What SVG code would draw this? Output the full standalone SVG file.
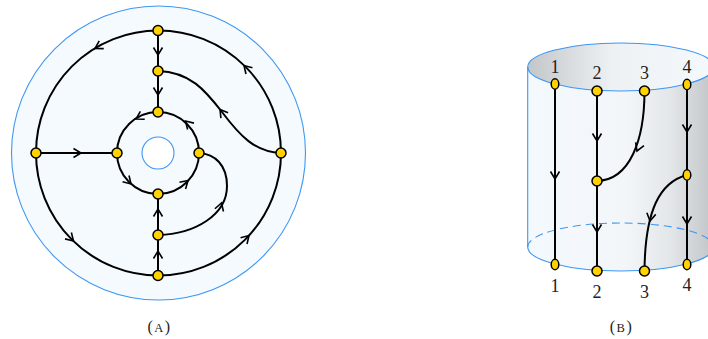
<svg xmlns="http://www.w3.org/2000/svg" xmlns:xlink="http://www.w3.org/1999/xlink" width="708" height="339" viewBox="0 0 708 339">
<style>
.edge{fill:none;stroke:#000;stroke-width:2}
.blue{fill:none;stroke:#3d97f2;stroke-width:1.1}
.node{fill:#ffd200;stroke:#000;stroke-width:1.5}
.lbl{font-family:"Liberation Serif","DejaVu Serif",serif;font-size:18px;fill:#222;text-anchor:middle}
.cap{font-family:"Liberation Serif","DejaVu Serif",serif;font-size:16px;fill:#222;text-anchor:middle;letter-spacing:1.5px}
</style>
<defs>
<path id="ch" d="M-7.5,-4.5 L0,0 L-7.5,4.5" fill="none" stroke="#000" stroke-width="1.6" stroke-linejoin="miter"/>
<linearGradient id="body" gradientUnits="userSpaceOnUse" x1="528" y1="0" x2="708" y2="0">
<stop offset="0" stop-color="#f4f9fe"/>
<stop offset="0.55" stop-color="#f2f6f9"/>
<stop offset="0.8" stop-color="#e3e6e8"/>
<stop offset="1" stop-color="#c6c9cc"/>
</linearGradient>
<linearGradient id="inside" gradientUnits="userSpaceOnUse" x1="528" y1="0" x2="714" y2="0">
<stop offset="0" stop-color="#c4c7ca"/>
<stop offset="0.45" stop-color="#eef1f4"/>
<stop offset="1" stop-color="#f4f9fd"/>
</linearGradient>
</defs>

<!-- Figure A background -->
<g id="surfaceA">
<circle cx="158.5" cy="153" r="147" fill="#f5faff" stroke="#3d97f2" stroke-width="1.1"/>
<circle cx="158" cy="153" r="16" fill="#ffffff" stroke="#3d97f2" stroke-width="1.1"/>
</g>

<!-- Figure B cylinder -->
<g id="cylinder">
<path d="M527.7,67 A93,24 0 0 0 713.7,67 L713.7,247 A93,24 0 0 1 527.7,247 Z" fill="url(#body)"/>
<ellipse cx="620.7" cy="67" rx="93" ry="24" fill="url(#inside)"/>
<ellipse cx="620.7" cy="67" rx="93" ry="24" class="blue"/>
<line x1="527.7" y1="67" x2="527.7" y2="247" class="blue"/>
<path d="M527.7,247 A93,24 0 0 0 713.7,247" class="blue"/>
<path d="M527.7,247 A93,24 0 0 1 713.7,247" class="blue" stroke-dasharray="8,5"/>
</g>

<g id="connectors">
<!-- Figure A -->
<circle cx="158.5" cy="153" r="122.5" class="edge"/>
<circle cx="158" cy="153" r="41" class="edge"/>
<line x1="158" y1="30" x2="158" y2="112" class="edge"/>
<line x1="158" y1="194" x2="158" y2="275.5" class="edge"/>
<line x1="36" y1="153" x2="117" y2="153" class="edge"/>
<path d="M158,71 C190,72 205,90 222,112 C240,136 255,152 281,153" class="edge"/>
<path d="M158,235 C195,234 227,215 227,186 C227,165 215,154 199,153" class="edge"/>
<!-- arrows A -->
<use xlink:href="#ch" transform="translate(158,55) rotate(90)"/>
<use xlink:href="#ch" transform="translate(158,95) rotate(90)"/>
<use xlink:href="#ch" transform="translate(158,251) rotate(-90)"/>
<use xlink:href="#ch" transform="translate(158,209) rotate(-90)"/>
<use xlink:href="#ch" transform="translate(81,153) rotate(0)"/>
<use xlink:href="#ch" transform="translate(95,48.5) rotate(150)"/>
<use xlink:href="#ch" transform="translate(244,65.5) rotate(-134)"/>
<use xlink:href="#ch" transform="translate(73.5,241) rotate(45)"/>
<use xlink:href="#ch" transform="translate(249,235.5) rotate(-46)"/>
<use xlink:href="#ch" transform="translate(136,119) rotate(151)"/>
<use xlink:href="#ch" transform="translate(185.5,121) rotate(-135)"/>
<use xlink:href="#ch" transform="translate(131,184) rotate(46)"/>
<use xlink:href="#ch" transform="translate(188,180.5) rotate(-43)"/>
<use xlink:href="#ch" transform="translate(220,109.5) rotate(-127)"/>
<use xlink:href="#ch" transform="translate(221.5,203) rotate(-72)"/>
<!-- Figure B -->
<line x1="555" y1="84" x2="555" y2="264.5" class="edge"/>
<line x1="597" y1="91" x2="597" y2="271" class="edge"/>
<line x1="687" y1="84.5" x2="687" y2="264.5" class="edge"/>
<path d="M644.5,91 C644.5,140 630,180 597,181" class="edge"/>
<path d="M687,175 C660,182 645,210 644.5,271" class="edge"/>
<use xlink:href="#ch" transform="translate(555,179) rotate(90)"/>
<use xlink:href="#ch" transform="translate(597,141) rotate(90)"/>
<use xlink:href="#ch" transform="translate(597,232) rotate(90)"/>
<use xlink:href="#ch" transform="translate(687,132) rotate(90)"/>
<use xlink:href="#ch" transform="translate(687,224) rotate(90)"/>
<use xlink:href="#ch" transform="translate(637,151) rotate(112)"/>
<use xlink:href="#ch" transform="translate(650,221) rotate(100)"/>
</g>

<g id="nA_top"><circle cx="158" cy="30.5" r="5" class="node"/></g>
<g id="nA_mid_top"><circle cx="158" cy="71" r="5" class="node"/></g>
<g id="nA_in_top"><circle cx="158" cy="112" r="5" class="node"/></g>
<g id="nA_left"><circle cx="36" cy="153" r="5" class="node"/></g>
<g id="nA_in_left"><circle cx="117" cy="153" r="5" class="node"/></g>
<g id="nA_in_right"><circle cx="199" cy="153" r="5" class="node"/></g>
<g id="nA_right"><circle cx="281" cy="153" r="5" class="node"/></g>
<g id="nA_in_bottom"><circle cx="158" cy="194" r="5" class="node"/></g>
<g id="nA_mid_bottom"><circle cx="158" cy="235" r="5" class="node"/></g>
<g id="nA_bottom"><circle cx="158" cy="275.5" r="5" class="node"/></g>

<g id="nB_top1"><ellipse cx="555" cy="84" rx="3.8" ry="5.2" class="node"/><text x="555" y="72.5" class="lbl">1</text></g>
<g id="nB_top2"><circle cx="597" cy="91" r="5" class="node"/><text x="597" y="78.5" class="lbl">2</text></g>
<g id="nB_top3"><circle cx="644.5" cy="91" r="5" class="node"/><text x="644.5" y="78.5" class="lbl">3</text></g>
<g id="nB_top4"><ellipse cx="687" cy="84.5" rx="3.8" ry="5.2" class="node"/><text x="687" y="72.5" class="lbl">4</text></g>
<g id="nB_mid2"><circle cx="597" cy="181" r="5" class="node"/></g>
<g id="nB_mid4"><ellipse cx="687" cy="175" rx="3.8" ry="5.2" class="node"/></g>
<g id="nB_bot1"><ellipse cx="555" cy="264.5" rx="3.8" ry="5.2" class="node"/><text x="555" y="291.5" class="lbl">1</text></g>
<g id="nB_bot2"><circle cx="597" cy="271" r="5" class="node"/><text x="597" y="298" class="lbl">2</text></g>
<g id="nB_bot3"><circle cx="644.5" cy="271" r="5" class="node"/><text x="644.5" y="298" class="lbl">3</text></g>
<g id="nB_bot4"><ellipse cx="687" cy="264.5" rx="3.8" ry="5.2" class="node"/><text x="687" y="291" class="lbl">4</text></g>

<g id="captions">
<text x="159.5" y="332" class="cap">(<tspan font-size="12.5">A</tspan>)</text>
<text x="621.5" y="332" class="cap">(<tspan font-size="12.5">B</tspan>)</text>
</g>
</svg>
